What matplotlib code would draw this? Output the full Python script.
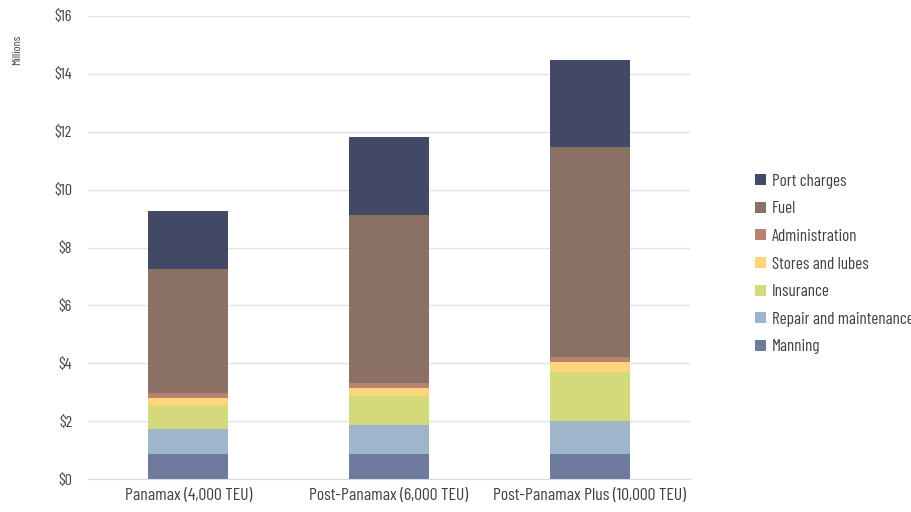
import matplotlib
matplotlib.use("Agg")
import matplotlib.pyplot as plt
from matplotlib import font_manager as fm
import numpy as np
import glob
import os

categories = ["Panamax (4,000 TEU)", "Post-Panamax (6,000 TEU)", "Post-Panamax Plus (10,000 TEU)"]
manning = [0.86, 0.85, 0.85]
repair = [0.87, 1.02, 1.14]
insurance = [0.79, 1.01, 1.72]
stores = [0.27, 0.28, 0.34]
administration = [0.19, 0.17, 0.18]
fuel = [4.28, 5.79, 7.24]
port_charges = [2.00, 2.70, 3.01]
yticks = [0, 2, 4, 6, 8, 10, 12, 14, 16]

series = [
    ("Manning", manning, "#6F7A9F"),
    ("Repair and maintenance", repair, "#9EB5CB"),
    ("Insurance", insurance, "#D3DA7C"),
    ("Stores and lubes", stores, "#FDD67B"),
    ("Administration", administration, "#B9826F"),
    ("Fuel", fuel, "#8B7165"),
    ("Port charges", port_charges, "#414966"),
]

# choose a condensed font with its own text sizes (ytick, xtick, legend, ylabel, legend spacing)
candidates = [
    ("BarlowCondensed-Regular.ttf", dict(yt=11.7, xt=12.7, lg=12.3, yl=8.7, ls=0.74)),
    ("DejaVuSansCondensed.ttf", dict(yt=10, xt=9.5, lg=9.2, yl=8, ls=1.25)),
]
cond_path = None
sizes = dict(yt=9, xt=8.5, lg=8.3, yl=7.5, ls=1.35)
for name, sz in candidates:
    hits = glob.glob(os.path.join("/usr/share/fonts", "**", name), recursive=True)
    if hits:
        cond_path = hits[0]
        sizes = sz
        break


def fp(size):
    if cond_path:
        return fm.FontProperties(fname=cond_path, size=size)
    return fm.FontProperties(family='DejaVu Sans', size=size)


fig = plt.figure(figsize=(9.12, 5.12), dpi=100)
ax = fig.add_axes([88/912, 33/512, 602/912, 463/512])
x = np.arange(len(categories))
bottom = np.zeros(len(categories))
handles = []
for name, vals, col in series:
    b = ax.bar(x, vals, 0.40, bottom=bottom, color=col, label=name, zorder=3, linewidth=0)
    bottom += np.array(vals)
    handles.append(b)

ax.set_xlim(-0.5, 2.5)
ax.set_ylim(0, 16)
ax.set_yticks(yticks)
ax.set_yticklabels([f"${v}" for v in yticks], fontproperties=fp(sizes['yt']), color="#404040")
ax.set_xticks(x)
ax.set_xticklabels(categories, fontproperties=fp(sizes['xt']), color="#404040")
ax.tick_params(axis='y', length=0, pad=11.5)
ax.tick_params(axis='x', length=0, pad=6.5)
ax.yaxis.grid(True, color="#E3E3E3", linewidth=1, zorder=0)
for s in ['left', 'right', 'top']:
    ax.spines[s].set_visible(False)
ax.spines['bottom'].set_color("#D9D9D9")

fig.text(17/912, 1 - 50/512, "Millions", rotation=90, ha='center', va='center',
         fontproperties=fp(sizes['yl']), color="#404040")

leg = fig.legend(handles[::-1], [s[0] for s in series][::-1],
                 loc='center left', bbox_to_anchor=(740/912, 1 - 264/512),
                 frameon=False, handlelength=0.6, handleheight=0.6,
                 handletextpad=0.35, labelspacing=sizes['ls'], prop=fp(sizes['lg']))
for t in leg.get_texts():
    t.set_color("#404040")

fig.savefig("out.png", dpi=100)
